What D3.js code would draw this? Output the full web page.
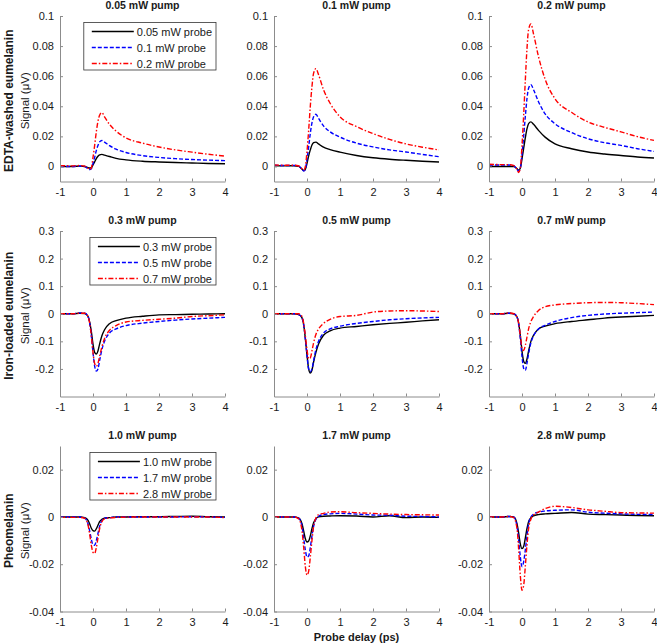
<!DOCTYPE html>
<html><head><meta charset="utf-8">
<script src="https://cdn.jsdelivr.net/npm/d3@7"></script>
<style>
body{margin:0;background:#fff;}
text{font-family:Arial,"Liberation Sans",sans-serif;}
</style></head>
<body>
<svg id="chart" width="657" height="643"></svg>
<script>
// ---------- DATA ----------
const delays = [-1, -0.6, -0.4, -0.25, -0.15, -0.1, -0.05, 0, 0.05, 0.1, 0.15, 0.2, 0.27, 0.35, 0.5, 0.7, 1.0, 1.5, 2, 2.5, 3, 3.5, 4];

const rowLabels = ["EDTA-washed eumelanin", "Iron-loaded eumelanin", "Pheomelanin"];
const pumpTitles = [
  ["0.05 mW pump", "0.1 mW pump", "0.2 mW pump"],
  ["0.3 mW pump", "0.5 mW pump", "0.7 mW pump"],
  ["1.0 mW pump", "1.7 mW pump", "2.8 mW pump"]
];
const probeLabels = [
  ["0.05 mW probe", "0.1 mW probe", "0.2 mW probe"],
  ["0.3 mW probe", "0.5 mW probe", "0.7 mW probe"],
  ["1.0 mW probe", "1.7 mW probe", "2.8 mW probe"]
];
const xTicks = [-1, 0, 1, 2, 3, 4];
const yDomains = [[-0.01, 0.1], [-0.3, 0.3], [-0.04, 0.03]];
const yTicks = [
  [0, 0.02, 0.04, 0.06, 0.08, 0.1],
  [-0.2, -0.1, 0, 0.1, 0.2, 0.3],
  [-0.04, -0.02, 0, 0.02]
];

// EDTA-washed eumelanin (row 1)
const edta_p005 = [
  [0,0,0.0002,0,-0.0008,-0.001,-0.0008,0.001,0.003,0.0052,0.0068,0.0077,0.008,0.0075,0.0066,0.0054,0.0044,0.0035,0.003,0.0026,0.0023,0.002,0.0018],
  [0,0,0.0003,0,-0.0015,-0.002,-0.0015,0.002,0.006,0.0105,0.014,0.0163,0.0173,0.0162,0.0138,0.0115,0.0093,0.0072,0.006,0.0052,0.0046,0.0042,0.0039],
  [0.0005,0.0004,0.0006,0.0002,-0.0012,-0.002,-0.001,0.006,0.014,0.023,0.030,0.034,0.0358,0.033,0.028,0.0235,0.019,0.0155,0.0129,0.011,0.0095,0.0081,0.0069]
];
const edta_p01 = [
  [0.0005,0.0004,0.0005,0,-0.0018,-0.0028,-0.002,0.002,0.007,0.011,0.0143,0.0158,0.0162,0.015,0.0128,0.0112,0.0095,0.0073,0.0058,0.0048,0.0041,0.0035,0.003],
  [0.0008,0.0006,0.0007,0.0002,-0.0018,-0.003,-0.002,0.005,0.013,0.022,0.029,0.033,0.0347,0.032,0.027,0.023,0.0195,0.0155,0.013,0.011,0.0096,0.008,0.0065],
  [0.001,0.0008,0.0008,0.0003,-0.0015,-0.0025,0,0.01,0.024,0.04,0.053,0.062,0.065,0.061,0.051,0.042,0.033,0.0265,0.0218,0.018,0.015,0.0128,0.011]
];
const edta_p02 = [
  [0,0,0,0,-0.0015,-0.0025,-0.001,0.005,0.012,0.019,0.025,0.0285,0.0296,0.028,0.024,0.0195,0.015,0.0118,0.0096,0.0083,0.0073,0.0063,0.0056],
  [0.001,0.001,0.001,0.0005,-0.002,-0.003,-0.001,0.008,0.02,0.033,0.045,0.052,0.0544,0.051,0.043,0.035,0.0284,0.0225,0.0184,0.0158,0.014,0.0118,0.01],
  [0.0015,0.0012,0.0012,0.0005,-0.002,-0.004,-0.001,0.014,0.034,0.057,0.078,0.091,0.0947,0.088,0.073,0.058,0.045,0.036,0.0296,0.026,0.023,0.0198,0.0173]
];
// Iron-loaded eumelanin (row 2)
const iron_p03 = [
  [0,0,0.002,0.001,-0.01,-0.03,-0.065,-0.11,-0.14,-0.146,-0.135,-0.11,-0.08,-0.058,-0.036,-0.025,-0.016,-0.009,-0.004,-0.003,-0.002,-0.001,0],
  [0,0,0.003,0.002,-0.01,-0.035,-0.08,-0.14,-0.19,-0.208,-0.2,-0.17,-0.13,-0.1,-0.07,-0.055,-0.043,-0.034,-0.028,-0.023,-0.019,-0.016,-0.013],
  [0,0,0.002,0.002,-0.01,-0.035,-0.08,-0.14,-0.18,-0.19,-0.18,-0.155,-0.12,-0.09,-0.06,-0.043,-0.03,-0.024,-0.02,-0.016,-0.01,-0.007,-0.004]
];
const iron_p05 = [
  [0,0,0,-0.003,-0.015,-0.04,-0.09,-0.15,-0.2,-0.215,-0.205,-0.175,-0.14,-0.11,-0.078,-0.062,-0.052,-0.046,-0.04,-0.035,-0.031,-0.026,-0.022],
  [0,0,0,-0.003,-0.015,-0.04,-0.09,-0.15,-0.2,-0.21,-0.2,-0.17,-0.13,-0.1,-0.07,-0.055,-0.045,-0.035,-0.028,-0.022,-0.018,-0.015,-0.013],
  [0,0,0,0,-0.01,-0.035,-0.08,-0.13,-0.163,-0.16,-0.135,-0.105,-0.075,-0.055,-0.035,-0.02,-0.01,-0.006,0.006,0.01,0.011,0.01,0.008]
];
const iron_p07 = [
  [0,0,0.002,0,-0.012,-0.035,-0.08,-0.135,-0.172,-0.18,-0.165,-0.135,-0.1,-0.078,-0.055,-0.045,-0.036,-0.028,-0.022,-0.016,-0.012,-0.009,-0.006],
  [0,0,0.002,0,-0.012,-0.04,-0.09,-0.155,-0.198,-0.205,-0.18,-0.145,-0.105,-0.08,-0.055,-0.042,-0.028,-0.014,-0.006,-0.001,0.002,0.004,0.006],
  [0,0,0.003,0,-0.012,-0.035,-0.08,-0.125,-0.133,-0.115,-0.085,-0.055,-0.028,-0.01,0.012,0.025,0.032,0.037,0.04,0.041,0.04,0.037,0.033]
];
// Pheomelanin (row 3)
const pheo_p10 = [
  [0,0,0,-0.0003,-0.0015,-0.003,-0.0048,-0.0058,-0.006,-0.005,-0.0035,-0.002,-0.001,-0.0005,-0.0003,0,0,0.0001,0.0001,0.0002,0.0003,0.0001,0],
  [0,0,0,-0.0005,-0.003,-0.006,-0.0095,-0.0118,-0.012,-0.01,-0.007,-0.004,-0.0015,-0.0005,-0.0003,0,0,0,0,0,0.0001,0,-0.0002],
  [-0.0002,-0.0002,-0.0002,-0.0006,-0.0035,-0.0075,-0.012,-0.015,-0.0155,-0.013,-0.009,-0.005,-0.002,-0.0008,-0.0004,-0.0002,-0.0001,0,0,0,0,0,-0.0003]
];
const pheo_p17 = [
  [0,0,0,-0.0005,-0.003,-0.006,-0.0092,-0.0106,-0.0102,-0.008,-0.005,-0.0025,-0.0007,0,0.0003,0.0004,0.0005,0.0004,0,0.0005,-0.0003,0,-0.0002],
  [0,0,0,-0.0005,-0.004,-0.009,-0.014,-0.017,-0.0165,-0.013,-0.008,-0.004,-0.001,0.0003,0.001,0.0013,0.0015,0.0012,0.0008,0.0007,0.0003,0.0002,0],
  [0,0,0,-0.0008,-0.006,-0.013,-0.021,-0.0246,-0.023,-0.017,-0.01,-0.004,-0.0005,0.001,0.0015,0.0021,0.0022,0.0018,0.0015,0.0012,0.001,0.0009,0.0008]
];
const pheo_p28 = [
  [0,0,0.0002,0,-0.003,-0.007,-0.0115,-0.0134,-0.0125,-0.009,-0.005,-0.002,-0.0003,0.0005,0.001,0.0013,0.0015,0.0019,0.0012,0.001,0.0008,0.0006,0.0005],
  [0,0,0.0002,0,-0.004,-0.01,-0.017,-0.021,-0.019,-0.014,-0.008,-0.003,0,0.0012,0.002,0.0025,0.0028,0.003,0.002,0.0016,0.0013,0.0011,0.001],
  [0,0,0.0002,-0.0003,-0.005,-0.014,-0.025,-0.031,-0.029,-0.021,-0.012,-0.005,-0.001,0.0008,0.002,0.0035,0.0045,0.004,0.003,0.0024,0.0018,0.0017,0.0016]
];
const panelData = [
  [edta_p005, edta_p01, edta_p02],
  [iron_p03, iron_p05, iron_p07],
  [pheo_p10, pheo_p17, pheo_p28]
];

// ---------- STYLE / LAYOUT ----------
const seriesColors = ["#000000", "#0000ff", "#ff0000"];
const seriesDash = [null, "4,2", "5,2,1.5,2"];
const colLeft = [60, 274, 489];
const plotW = 165;
const rowTop = [16, 231, 446];
const plotH = 165.5;
const axisColor = "#8c8c8c";
const textColor = "#1a1a1a";

const svg = d3.select("#chart");

function fmt(v){ return String(+v.toFixed(4)); }

for (let r = 0; r < 3; r++) {
  for (let c = 0; c < 3; c++) {
    const x = d3.scaleLinear().domain([-1, 4]).range([colLeft[c], colLeft[c] + plotW]);
    const y = d3.scaleLinear().domain(yDomains[r]).range([rowTop[r] + plotH, rowTop[r]]);
    const g = svg.append("g");

    // curves
    const line = d3.line().x((d, i) => x(delays[i])).y(d => y(d)).curve(d3.curveMonotoneX);
    panelData[r][c].forEach((vals, s) => {
      g.append("path").datum(vals)
        .attr("d", line)
        .attr("fill", "none")
        .attr("stroke", seriesColors[s])
        .attr("stroke-width", 1.4)
        .attr("stroke-dasharray", seriesDash[s]);
    });

    // axes
    const xAxis = d3.axisBottom(x).tickValues(xTicks).tickSizeInner(-3).tickSizeOuter(0).tickPadding(7).tickFormat(fmt);
    const yAxis = d3.axisLeft(y).tickValues(yTicks[r]).tickSizeInner(-3).tickSizeOuter(0).tickPadding(6).tickFormat(fmt);
    const gx = g.append("g").attr("transform", `translate(0,${rowTop[r] + plotH})`).call(xAxis);
    const gy = g.append("g").attr("transform", `translate(${colLeft[c]},0)`).call(yAxis);
    [gx, gy].forEach(a => {
      a.select(".domain").attr("stroke", axisColor).attr("stroke-width", 1);
      a.selectAll(".tick line").attr("stroke", axisColor);
      a.selectAll(".tick text").attr("fill", textColor).style("font-size", "11px").style("font-family", "Arial, 'Liberation Sans', sans-serif");
    });

    // title
    g.append("text")
      .attr("x", colLeft[c] + plotW / 2)
      .attr("y", rowTop[r] - 7)
      .attr("text-anchor", "middle")
      .attr("fill", textColor)
      .style("font-size", "10.5px").style("font-weight", "bold")
      .text(pumpTitles[r][c]);

    // legend on first column
    if (c === 0) {
      const lg = g.append("g");
      const rowY0 = rowTop[r] + 15.5;
      const rowStep = 16;
      const texts = probeLabels[r].map((lab, s) => lg.append("text")
        .attr("y", rowY0 + s * rowStep + 4)
        .attr("fill", textColor)
        .style("font-size", "11px")
        .text(lab));
      const tw = d3.max(texts, t => t.node().getComputedTextLength());
      const boxRight = 216;
      const textX = boxRight - 4 - tw;
      const lineX1 = textX - 3;
      const lineX0 = lineX1 - 42;
      const boxLeft = lineX0 - 8;
      texts.forEach(t => t.attr("x", textX));
      lg.insert("rect", ":first-child")
        .attr("x", boxLeft).attr("y", rowTop[r] + 6.5)
        .attr("width", boxRight - boxLeft).attr("height", 47.5)
        .attr("fill", "#fff").attr("stroke", "#333").attr("stroke-width", 0.8);
      probeLabels[r].forEach((lab, s) => {
        lg.append("line")
          .attr("x1", lineX0).attr("x2", lineX1)
          .attr("y1", rowY0 + s * rowStep).attr("y2", rowY0 + s * rowStep)
          .attr("stroke", seriesColors[s]).attr("stroke-width", 1.4)
          .attr("stroke-dasharray", seriesDash[s]);
      });

      // row y labels
      const cy = rowTop[r] + plotH / 2 + 2;
      g.append("text")
        .attr("transform", `translate(12.5,${cy}) rotate(-90)`)
        .attr("text-anchor", "middle").attr("fill", textColor)
        .style("font-size", "12px").style("font-weight", "bold")
        .text(rowLabels[r]);
      g.append("text")
        .attr("transform", `translate(28.5,${cy}) rotate(-90)`)
        .attr("text-anchor", "middle").attr("fill", textColor)
        .style("font-size", "11.5px")
        .text("Signal (\u03BCV)");
    }
  }
}

// x-axis label
svg.append("text")
  .attr("x", colLeft[1] + plotW / 2)
  .attr("y", 641)
  .attr("text-anchor", "middle").attr("fill", textColor)
  .style("font-size", "11px").style("font-weight", "bold")
  .text("Probe delay (ps)");
</script>
</body></html>
